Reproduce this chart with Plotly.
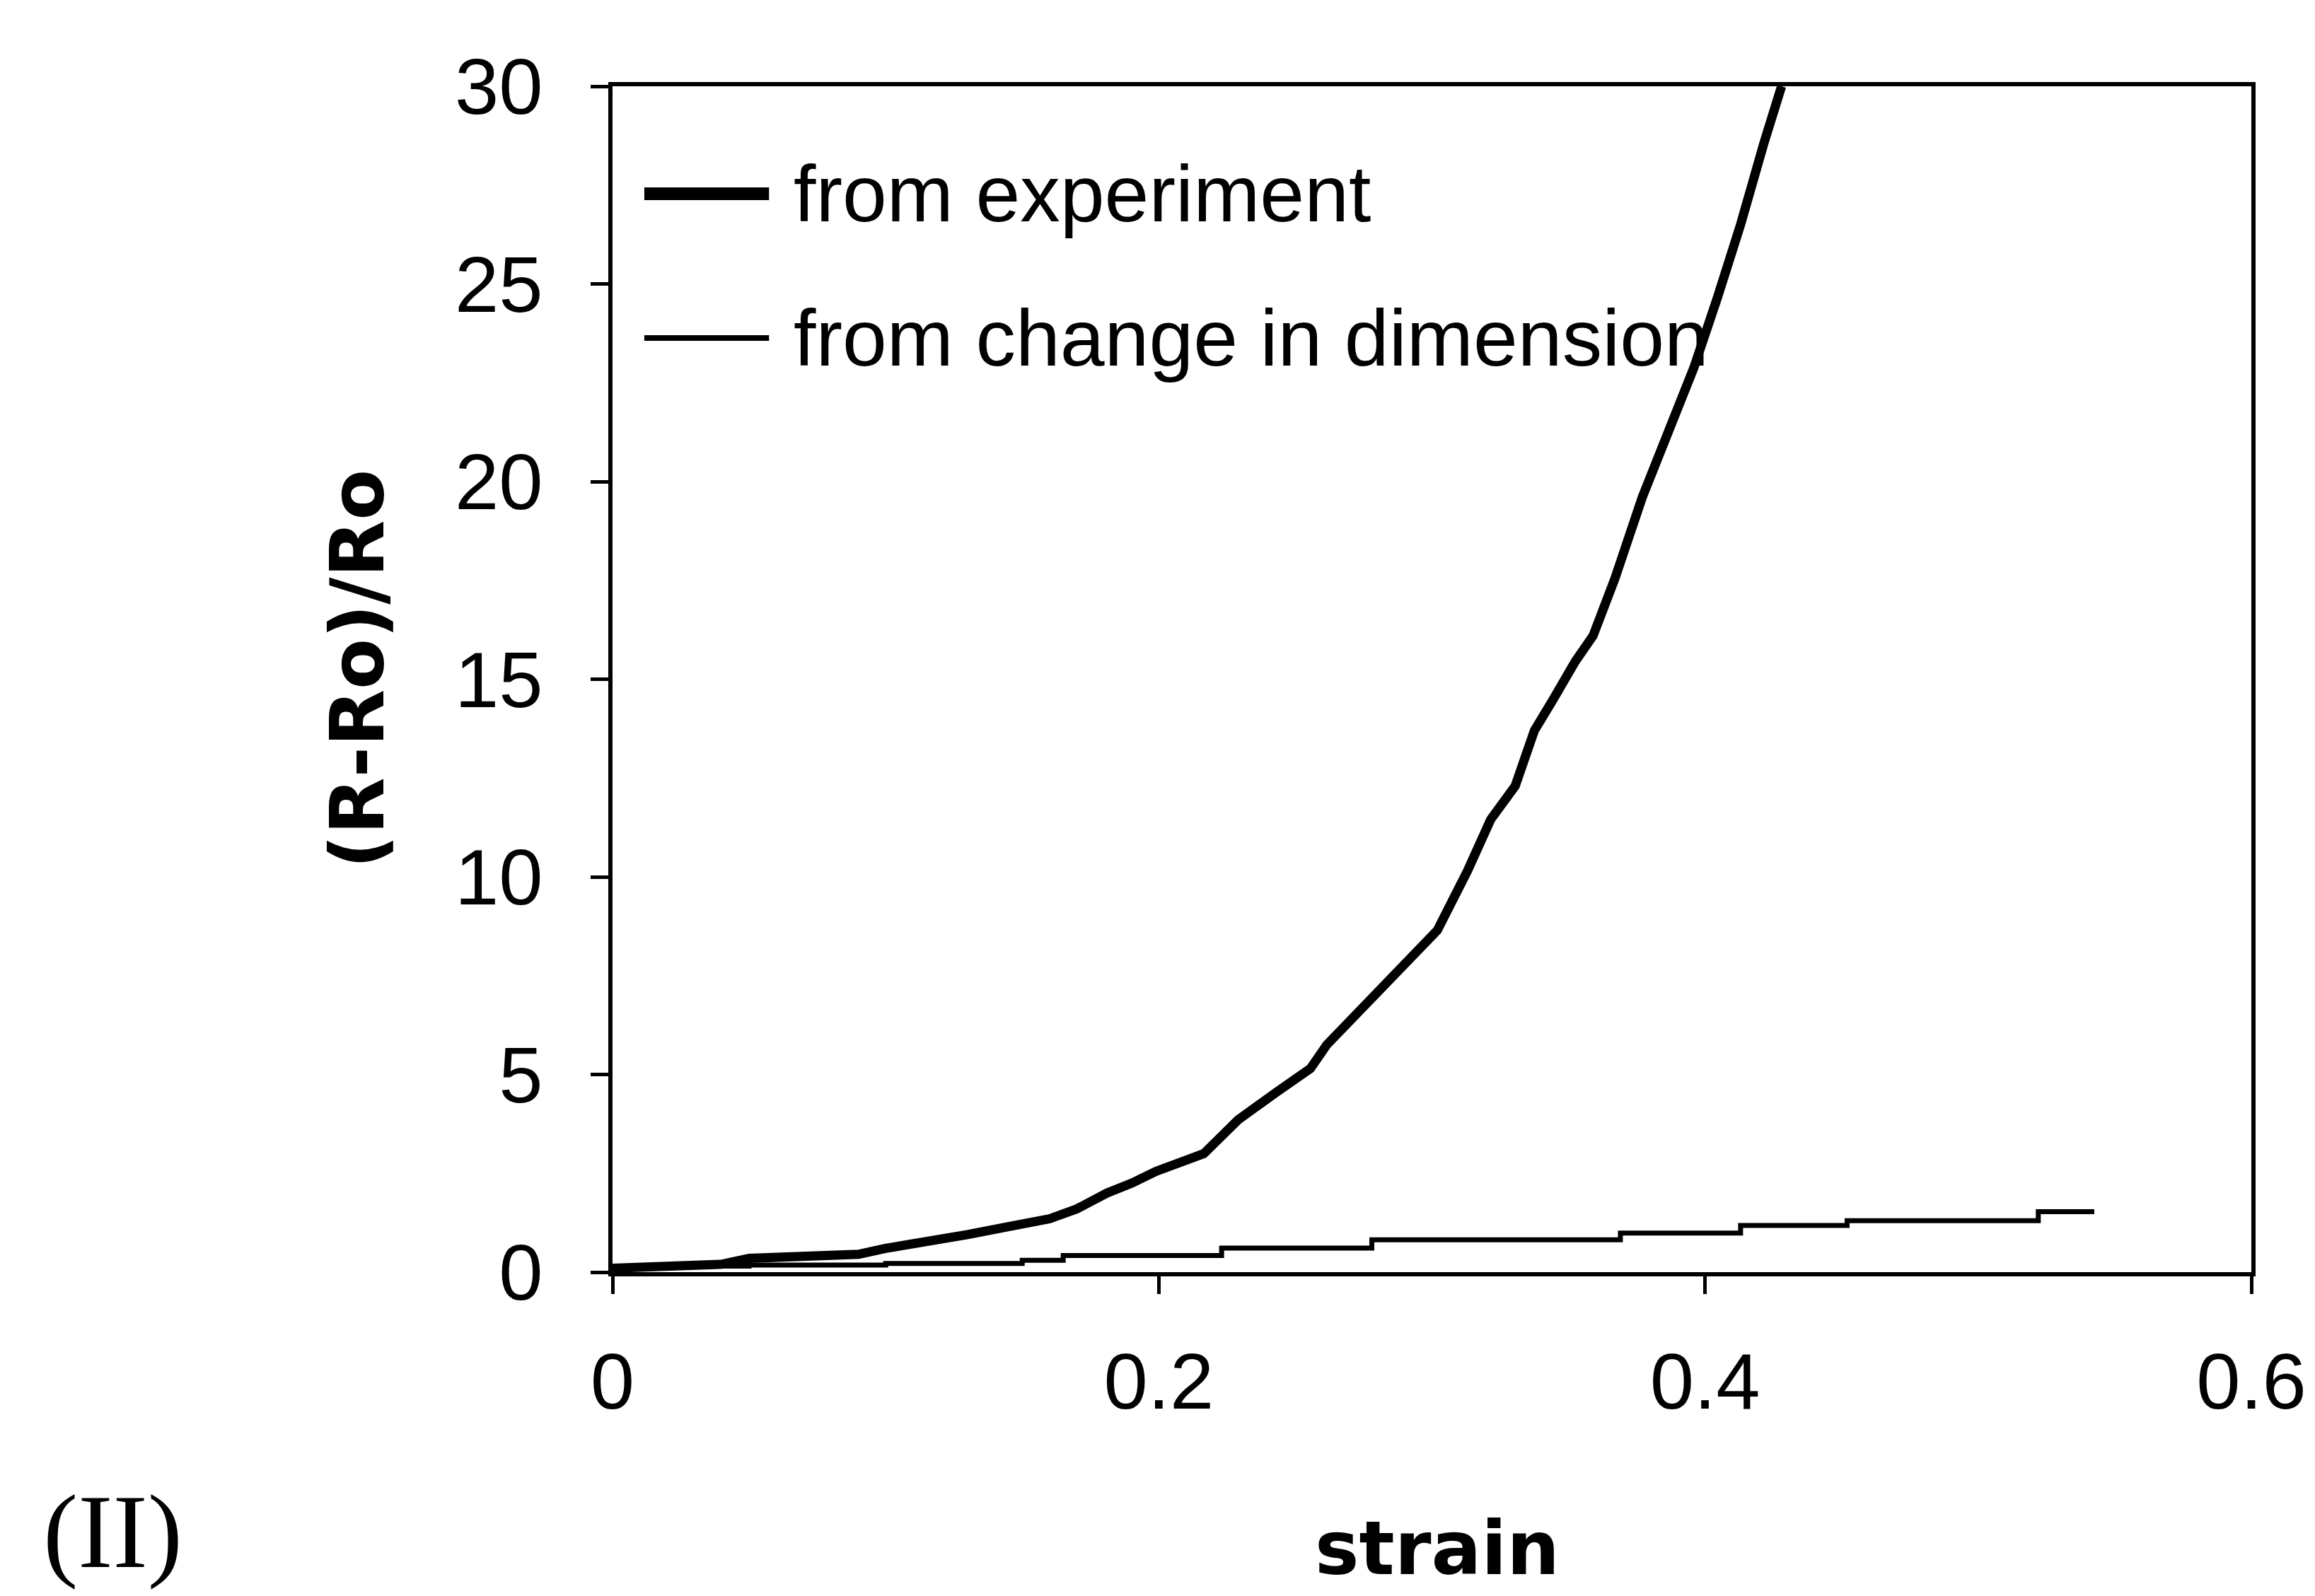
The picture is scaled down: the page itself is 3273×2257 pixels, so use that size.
import plotly.graph_objects as go

# ---- data ----
exp_strain = [0.000, 0.020, 0.040, 0.050, 0.070, 0.090, 0.100, 0.115, 0.130, 0.145,
              0.160, 0.170, 0.181, 0.190, 0.199, 0.2165, 0.229, 0.243, 0.2555, 0.2615,
              0.2845, 0.302, 0.313, 0.3215, 0.3305, 0.3375, 0.3445, 0.3525, 0.359, 0.367,
              0.377, 0.3875, 0.396, 0.4045, 0.413, 0.4215, 0.428]
exp_resist = [0.10, 0.15, 0.20, 0.35, 0.40, 0.45, 0.60, 0.75, 0.95, 1.15,
              1.35, 1.60, 2.00, 2.25, 2.55, 3.00, 3.85, 4.55, 5.15, 5.75,
              7.40, 8.65, 10.15, 11.45, 12.30, 13.70, 14.50, 15.45, 16.10, 17.55,
              19.60, 21.35, 22.90, 24.65, 26.50, 28.55, 30.00]

dim_strain = [0.000, 0.050, 0.100, 0.150, 0.165, 0.223, 0.278, 0.369, 0.413, 0.452, 0.522, 0.5425]
dim_resist = [0.15, 0.18, 0.22, 0.30, 0.42, 0.61, 0.82, 0.99, 1.18, 1.30, 1.53, 1.53]

series_names = ["from experiment", "from change in dimension"]
x_tick_vals = [0, 0.2, 0.4, 0.6]
x_tick_text = ["0", "0.2", "0.4", "0.6"]
y_tick_vals = [0, 5, 10, 15, 20, 25, 30]
y_tick_text = ["0", "5", "10", "15", "20", "25", "30"]
x_title = "strain"
y_title = "(R-Ro)/Ro"
panel_label = "(II)"

SANS = "Liberation Sans, Arial, sans-serif"
BOLD = "DejaVu Sans, Verdana, sans-serif"
SERIF = "Liberation Serif, Times New Roman, serif"

fig = go.Figure()
fig.add_trace(go.Scatter(x=exp_strain, y=exp_resist, mode="lines", name=series_names[0],
                         line=dict(color="black", width=13)))
fig.add_trace(go.Scatter(x=dim_strain, y=dim_resist, mode="lines", name=series_names[1],
                         line=dict(color="black", width=7, shape="hv")))

axis_common = dict(showline=True, linecolor="black", linewidth=6, mirror=True,
                   showgrid=False, zeroline=False, ticks="outside", ticklen=25,
                   tickwidth=5, tickcolor="black",
                   tickfont=dict(family=SANS, size=112, color="black"))

fig.update_xaxes(range=[0, 0.6], tickvals=x_tick_vals, ticktext=x_tick_text,
                 ticklabelstandoff=28, **axis_common)
fig.update_yaxes(range=[0, 30], tickvals=y_tick_vals, ticktext=y_tick_text,
                 ticklabelstandoff=45, **axis_common)

# custom legend inside the plot (long line samples as in the original)
legend_rows = [(0.9094, 18), (0.7877, 8)]
for (yp, w) in legend_rows:
    fig.add_shape(type="line", xref="paper", yref="paper", x0=0.0194, x1=0.0955,
                  y0=yp, y1=yp, line=dict(color="black", width=w))
for name, (yp, _) in zip(series_names, legend_rows):
    fig.add_annotation(text=name, xref="paper", yref="paper", x=0.1097, y=yp,
                       xanchor="left", yanchor="middle", showarrow=False,
                       font=dict(family=SANS, size=113, color="black"))

fig.add_annotation(text="<b>" + x_title + "</b>", xref="paper", yref="paper",
                   x=0.5034, y=-0.2331, xanchor="center", yanchor="middle",
                   showarrow=False, font=dict(family=BOLD, size=105, color="black"))
fig.add_annotation(text="<b>" + y_title + "</b>", xref="paper", yref="paper",
                   x=-0.1553, y=0.5086, xanchor="center", yanchor="middle",
                   textangle=-90, showarrow=False,
                   font=dict(family=BOLD, size=105, color="black"))
fig.add_annotation(text=panel_label, xref="paper", yref="paper",
                   x=-0.3481, y=-0.2188, xanchor="left", yanchor="middle",
                   showarrow=False, font=dict(family=SERIF, size=148, color="black"))

fig.update_layout(width=3273, height=2257,
                  margin=dict(l=866, r=83, t=122, b=458, pad=0),
                  paper_bgcolor="white", plot_bgcolor="white", showlegend=False)

fig.write_html("out.html")
